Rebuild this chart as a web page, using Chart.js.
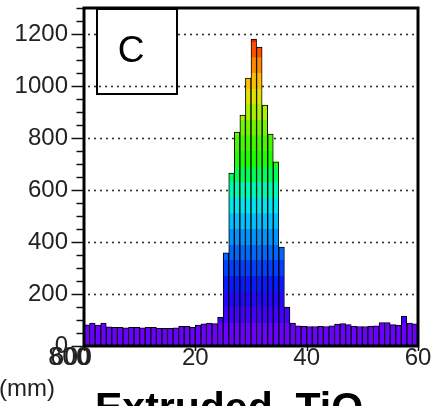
<!DOCTYPE html>
<html>
<head>
<meta charset="utf-8">
<script src="https://cdn.jsdelivr.net/npm/chart.js@4"></script>
<style>
  html, body { margin: 0; padding: 0; background: #fff; }
  #wrap { width: 432px; height: 406px; }
</style>
</head>
<body>
<div id="wrap"><canvas id="c"></canvas></div>
<script>
// Hit profile along the bar (1 mm bins, 0-60 mm)
const binCount = 60;
const binWidth = 1;
const counts = [
  81, 88, 80, 88, 74, 72, 72, 70, 72, 72,
  70, 72, 72, 68, 68, 68, 70, 76, 76, 72,
  80, 85, 88, 86, 110, 358, 665, 823, 888, 1030,
  1180, 1150, 927, 815, 708, 380, 150, 88, 78, 76,
  75, 75, 76, 75, 78, 84, 86, 82, 76, 75,
  75, 76, 78, 90, 90, 82, 80, 115, 88, 85
];
const xTicks = [0, 20, 40, 60];
const yTicks = [0, 200, 400, 600, 800, 1000, 1200];

// Height colour palette: band lower edges and colours (violet -> red)
const bandEdges = [0, 90, 150, 210, 270, 330, 390, 450, 510, 570, 630, 690, 750, 810, 870, 930, 990, 1050, 1110, 1170, 1300];
const bandColors = [
  '#6a00ff', '#4400ff', '#2208ff', '#0a1aff', '#0040ff', '#0068ff', '#0094ff', '#00c0ff',
  '#00e6f0', '#00fbb0', '#00ff55', '#1cff00', '#44f800', '#74f400', '#aaf000', '#e0e400',
  '#ffbe00', '#ff8a00', '#ff5000', '#ff1800'
];

const points = counts.map((v, i) => ({ x: (i + 0.5) * binWidth, y: v }));

let gradCache = null;
function bandFill(context) {
  const chart = context.chart;
  const area = chart.chartArea;
  if (!area) return bandColors[0];
  const y = chart.scales.y;
  const key = area.top + ':' + area.bottom;
  if (gradCache && gradCache.key === key) return gradCache.g;
  const y0 = y.getPixelForValue(0);
  const y1 = y.getPixelForValue(1300);
  const g = chart.ctx.createLinearGradient(0, y0, 0, y1);
  const span = 1300;
  for (let i = 0; i < bandColors.length; i++) {
    const lo = bandEdges[i] / span;
    const hi = bandEdges[i + 1] / span;
    g.addColorStop(lo, bandColors[i]);
    g.addColorStop(Math.max(lo, hi - 0.0005), bandColors[i]);
  }
  gradCache = { key, g };
  return g;
}

function dotted(ctx, x0, x1, py) {
  ctx.beginPath();
  ctx.moveTo(x0, py);
  ctx.lineTo(x1, py);
  ctx.stroke();
}

const frameDeco = {
  id: 'frameDeco',
  beforeDatasetsDraw(chart) {
    const { ctx, chartArea: a, scales: { y } } = chart;
    ctx.save();
    ctx.strokeStyle = '#222';
    ctx.lineWidth = 2;
    ctx.lineCap = 'round';
    ctx.setLineDash([0, 6]);
    yTicks.filter(v => v > 0).forEach(v => {
      const py = Math.round(y.getPixelForValue(v)) + 0.5;
      dotted(ctx, a.left + 5, a.right - 3, py);
    });
    ctx.restore();
  },
  afterDraw(chart) {
    const { ctx, chartArea: a, scales: { x, y } } = chart;
    ctx.save();

    // label box "C"
    const bx = a.left + 13, by = a.top + 1, bw = 80, bh = 85;
    ctx.fillStyle = '#fff';
    ctx.fillRect(bx, by, bw, bh);
    ctx.strokeStyle = '#222';
    ctx.lineWidth = 2;
    ctx.lineCap = 'round';
    ctx.setLineDash([0, 6]);
    dotted(ctx, bx + 3, bx + bw - 2, Math.round(y.getPixelForValue(1000)) + 0.5);
    ctx.setLineDash([]);
    ctx.lineCap = 'butt';
    ctx.strokeStyle = '#000';
    ctx.lineWidth = 2;
    ctx.strokeRect(bx, by, bw, bh);
    ctx.fillStyle = '#000';
    ctx.font = '37px "Liberation Sans", Arial, sans-serif';
    ctx.textAlign = 'center';
    ctx.textBaseline = 'middle';
    ctx.fillText('C', bx + 34, by + 43);

    // frame
    ctx.lineWidth = 3;
    ctx.strokeStyle = '#000';
    ctx.strokeRect(a.left, a.top, a.right - a.left, a.bottom - a.top);

    // y ticks (major + minor)
    ctx.lineWidth = 1.5;
    ctx.strokeStyle = '#111';
    for (let v = 0; v <= 1300; v += 50) {
      const py = Math.round(y.getPixelForValue(v)) + 0.5;
      const len = (v % 200 === 0) ? 11 : 6;
      ctx.beginPath();
      ctx.moveTo(a.left - 1.5 - len, py);
      ctx.lineTo(a.left - 1, py);
      ctx.stroke();
    }
    // x ticks
    xTicks.forEach(v => {
      const px = Math.round(x.getPixelForValue(v)) + 0.5;
      ctx.beginPath();
      ctx.moveTo(px, a.bottom + 1);
      ctx.lineTo(px, a.bottom + 5);
      ctx.stroke();
    });

    // overprinted labels at the lower left corner
    ctx.fillStyle = '#222';
    ctx.font = '25px "Liberation Sans", Arial, sans-serif';
    ctx.textAlign = 'right';
    ctx.textBaseline = 'middle';
    const ly = a.bottom + 12;
    ctx.fillText('800', a.left + 6, ly);
    ctx.fillText('600', a.left + 8, ly);

    // axis unit
    ctx.textAlign = 'left';
    ctx.textBaseline = 'alphabetic';
    ctx.fillStyle = '#222';
    ctx.font = '24px "Liberation Sans", Arial, sans-serif';
    ctx.fillText('(mm)', -1, 396);

    // caption
    ctx.fillStyle = '#000';
    ctx.font = 'bold 41px "Liberation Sans", Arial, sans-serif';
    ctx.fillText('Extruded  TiO', 95, 421);

    ctx.restore();
  }
};

const tickFont = { family: '"Liberation Sans", Arial, sans-serif', size: 24, lineHeight: 1 };

new Chart(document.getElementById('c'), {
  type: 'bar',
  data: {
    datasets: [{
      data: points,
      backgroundColor: bandFill,
      borderColor: '#000',
      borderWidth: 1,
      borderSkipped: 'bottom',
      barPercentage: 1,
      categoryPercentage: 1
    }]
  },
  options: {
    responsive: true,
    maintainAspectRatio: false,
    animation: false,
    events: [],
    layout: { padding: { top: 8, right: 14, left: 0, bottom: 0 } },
    plugins: { legend: { display: false }, tooltip: { enabled: false } },
    scales: {
      x: {
        type: 'linear',
        min: 0,
        max: binCount * binWidth,
        offset: false,
        grid: { display: false, drawTicks: false },
        border: { display: false },
        ticks: {
          autoSkip: false,
          maxRotation: 0,
          padding: 0,
          color: '#222',
          font: tickFont,
          callback: v => String(v)
        },
        afterBuildTicks(scale) { scale.ticks = xTicks.map(v => ({ value: v })); },
        afterFit(scale) {
          scale.height = 60;
          scale.paddingLeft = 0;
          scale.paddingRight = 0;
        }
      },
      y: {
        min: 0,
        max: 1300,
        grid: { display: false, drawTicks: false },
        border: { display: false },
        ticks: {
          padding: 16,
          color: '#222',
          font: tickFont,
          callback: v => String(v)
        },
        afterBuildTicks(scale) { scale.ticks = yTicks.map(v => ({ value: v })); },
        afterFit(scale) {
          scale.width = 84;
          scale.paddingTop = 0;
          scale.paddingBottom = 0;
        }
      }
    }
  },
  plugins: [frameDeco]
});
</script>
</body>
</html>
